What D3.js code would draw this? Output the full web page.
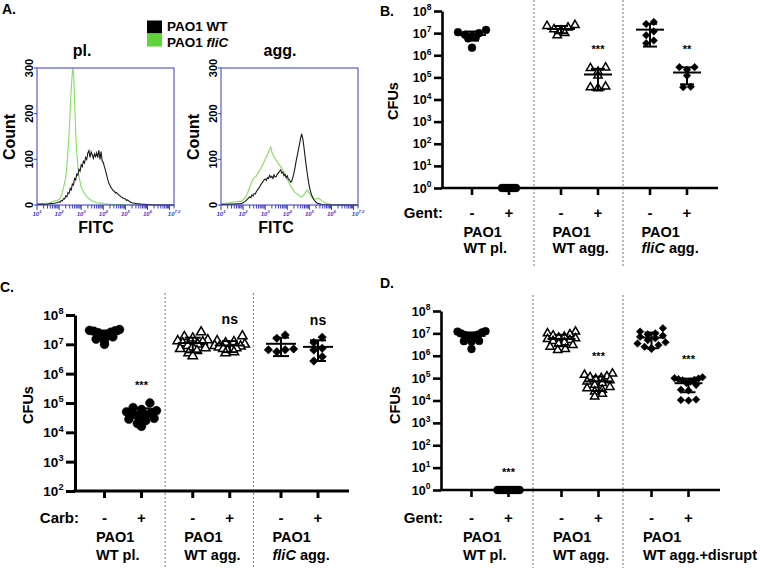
<!DOCTYPE html>
<html>
<head>
<meta charset="utf-8">
<script src="https://cdn.jsdelivr.net/npm/d3@7"></script>
<style>
body { margin: 0; background: #fff; }
text { font-family: "Liberation Sans", Arial, Helvetica, sans-serif; font-weight: bold; }
</style>
</head>
<body>
<svg id="fig" width="760" height="568"></svg>
<script>
// ---- panel A: flow histograms, [log10 FITC, count]
var plWT = [[1.0,1],[1.2,2],[1.4,1],[1.6,3],[1.8,4],[1.9,5],[2.0,7],[2.05,6],[2.1,10],[2.15,9],[2.2,14],[2.25,13],[2.3,20],[2.35,18],[2.4,27],[2.45,25],[2.5,36],[2.55,33],[2.6,46],[2.65,44],[2.7,58],[2.75,55],[2.8,68],[2.85,65],[2.9,78],[2.95,74],[3.0,88],[3.05,84],[3.1,96],[3.15,92],[3.2,104],[3.25,100],[3.3,114],[3.35,119],[3.4,104],[3.45,116],[3.5,110],[3.55,102],[3.6,112],[3.65,106],[3.7,114],[3.75,104],[3.8,120],[3.85,100],[3.9,117],[3.95,96],[4.0,93],[4.05,84],[4.1,76],[4.15,66],[4.2,56],[4.25,48],[4.3,43],[4.35,38],[4.4,35],[4.45,31],[4.5,30],[4.55,26],[4.6,27],[4.7,22],[4.8,18],[4.9,15],[5.0,13],[5.05,10],[5.1,11],[5.2,7],[5.3,5],[5.4,4],[5.5,3],[5.7,2],[6.0,1],[6.3,0],[7.2,0]];
var plFli = [[1.0,2],[1.1,3],[1.2,2],[1.3,3],[1.4,4],[1.5,3],[1.6,5],[1.7,7],[1.8,9],[1.9,10],[2.0,12],[2.1,20],[2.2,38],[2.3,60],[2.35,85],[2.4,118],[2.45,155],[2.5,205],[2.55,255],[2.6,290],[2.63,300],[2.66,285],[2.7,230],[2.75,160],[2.8,115],[2.85,85],[2.9,62],[3.0,40],[3.1,29],[3.2,21],[3.3,16],[3.4,12],[3.5,9],[3.6,7],[3.7,5],[3.8,4],[3.9,4],[4.0,3],[4.2,2],[4.5,1],[4.8,1],[5.2,0],[7.2,0]];
var aggWT = [[1.0,1],[1.5,2],[1.9,3],[2.0,5],[2.1,8],[2.2,13],[2.3,18],[2.35,16],[2.4,22],[2.45,20],[2.5,25],[2.55,24],[2.6,29],[2.65,33],[2.7,36],[2.75,40],[2.8,44],[2.85,48],[2.9,51],[2.95,55],[3.0,57],[3.05,54],[3.1,60],[3.15,58],[3.2,65],[3.25,60],[3.3,63],[3.35,58],[3.4,66],[3.45,61],[3.5,62],[3.55,68],[3.6,70],[3.65,74],[3.7,77],[3.75,70],[3.8,72],[3.85,64],[3.9,67],[3.95,60],[4.0,64],[4.05,56],[4.1,55],[4.15,50],[4.2,52],[4.25,60],[4.3,70],[4.35,82],[4.4,96],[4.45,108],[4.5,120],[4.55,132],[4.6,146],[4.65,156],[4.7,146],[4.75,128],[4.8,108],[4.85,88],[4.9,70],[4.95,54],[5.0,40],[5.05,30],[5.1,22],[5.2,12],[5.3,6],[5.4,3],[5.6,1],[6.0,0],[7.2,0]];
var aggFli = [[1.0,2],[1.2,4],[1.4,5],[1.6,7],[1.8,8],[1.9,8],[2.0,11],[2.1,16],[2.2,26],[2.3,40],[2.4,52],[2.5,60],[2.6,64],[2.7,72],[2.8,80],[2.9,90],[3.0,100],[3.05,106],[3.1,110],[3.15,116],[3.2,122],[3.25,127],[3.3,116],[3.35,110],[3.4,106],[3.5,98],[3.6,90],[3.7,84],[3.8,76],[3.9,66],[4.0,56],[4.1,47],[4.2,38],[4.3,30],[4.4,26],[4.5,22],[4.6,18],[4.7,19],[4.8,26],[4.9,33],[5.0,26],[5.1,16],[5.2,12],[5.3,13],[5.4,15],[5.5,12],[5.6,8],[5.7,5],[5.8,3],[6.0,1],[6.3,0],[7.2,0]];
var histYTicks = [0, 100, 200, 300];
var histXLabels = [[1,"1"],[2,"2"],[3,"3"],[4,"4"],[5,"5"],[6,"6"],[7.2,"7.2"]];

// ---- panel B: CFUs after gentamicin
var bPlMinus = [1.1e7, 8.5e6, 6.5e6, 5.8e6, 7.5e6, 1.0e7, 1.4e7, 2.2e6];
var bPlPlus = [1, 1, 1, 1, 1, 1, 1, 1];
var bAggMinus = [2.1e7, 1.8e7, 1.5e7, 1.3e7, 1.0e7, 8e6, 2.3e7];
var bAggPlus = [2.6e5, 1.2e5, 1.8e5, 2.8e5, 3.2e4, 3.5e4, 3.8e4];
var bFliMinus = [3.2e7, 2.6e7, 8e6, 1.2e7, 3.5e6, 4.6e6];
var bFliPlus = [2.9e5, 2.2e5, 2.9e5, 1.2e5, 3.6e4, 3.8e4];
var sigB = ["", "", "", "***", "", "**"];

// ---- panel C: CFUs after carbenicillin
var cPlMinus = [3.0e7, 2.8e7, 3.2e7, 2.6e7, 2.5e7, 2.2e7, 2.0e7, 1.8e7, 1.5e7, 1.3e7, 1.0e7, 2.9e7];
var cPlPlus = [1.0e5, 7e4, 6e4, 5.5e4, 5e4, 4.5e4, 4e4, 3.8e4, 3.5e4, 3e4, 2.8e4, 2.5e4, 2e4, 1.6e4, 4.8e4];
var cAggMinus = [2.6e7, 1.6e7, 1.4e7, 1.3e7, 1.2e7, 1.1e7, 1.0e7, 9e6, 8e6, 7.5e6, 7e6, 6e6, 5e6, 4e6, 1.8e7];
var cAggPlus = [1.9e7, 1.2e7, 1.1e7, 1.0e7, 9e6, 8.5e6, 8e6, 7.5e6, 7e6, 6.5e6, 6e6, 5.5e6, 5e6, 1.3e7];
var cFliMinus = [2.1e7, 1.6e7, 6.5e6, 5.6e6, 6.5e6, 7e6];
var cFliPlus = [1.75e7, 1.15e7, 6.4e6, 7.3e6, 2.7e6, 3.8e6];
var sigC = ["", "***", "", "ns", "", "ns"];

// ---- panel D: CFUs after gentamicin, disrupted aggregates
var dPlMinus = [1.2e7, 1.25e7, 1.1e7, 1.0e7, 9e6, 8.5e6, 8e6, 7.5e6, 7e6, 4.5e6, 4.3e6, 4.6e6, 2e6];
var dPlPlus = [1, 1, 1, 1, 1, 1, 1, 1, 1, 1, 1, 1];
var dAggMinus = [1.2e7, 1.0e7, 9e6, 8e6, 7e6, 6.5e6, 6e6, 5.5e6, 5e6, 4.5e6, 4e6, 3.5e6, 3e6, 2.5e6, 2e6, 1.8e6];
var dAggPlus = [1.6e5, 1.4e5, 1.2e5, 1.1e5, 1e5, 9e4, 8e4, 7e4, 6e4, 5e4, 4e4, 3.5e4, 3e4, 2.5e4, 2e4, 1.5e4];
var dFliMinus = [1.7e7, 1.2e7, 1.0e7, 9e6, 8e6, 7e6, 6e6, 5e6, 4e6, 3.5e6, 3e6, 2.5e6, 2e6, 2.2e6];
var dFliPlus = [1.1e5, 1.0e5, 9.5e4, 9e4, 8.5e4, 8e4, 7e4, 6e4, 5e4, 3e4, 1.1e4, 1.0e4, 1.05e4, 2.8e4];
var sigD = ["", "***", "", "***", "", "***"];

var treatments = ["-", "+"];
var shapes = ["circle", "triangle", "diamond"];
var namesBC = [["PAO1", "WT pl."], ["PAO1", "WT agg."], ["PAO1", "fliC agg."]];
var namesD = [["PAO1", "WT pl."], ["PAO1", "WT agg."], ["PAO1", "WT agg.+disrupt"]];

var svg = d3.select("#fig");

function supText(g, x, y, base, exp, size, anchor) {
    var t = g.append("text")
        .attr("x", x).attr("y", y)
        .attr("text-anchor", anchor)
        .attr("font-size", size);
    t.append("tspan").text(base);
    t.append("tspan").attr("dy", -size * 0.42).attr("font-size", size * 0.68).text(exp);
    return t;
}

// name with italic fliC
function groupName(t, s) {
    if (s.indexOf("fliC") === 0) {
        t.append("tspan").attr("font-style", "italic").text("fliC");
        t.append("tspan").text(s.slice(4));
    } else {
        t.append("tspan").text(s);
    }
}

function drawHist(x0, title, titleX, fitcX, wt, fli) {
    var g = svg.append("g");
    var x = d3.scaleLinear().domain([1, 7.2]).range([x0, x0 + 137]);
    var y = d3.scaleLinear().domain([0, 300]).range([205, 68]);
    var line = d3.line().x(function(d) { return x(d[0]); }).y(function(d) { return y(d[1]); });
    var blue = "#3b3bc4";

    g.append("path").datum(fli).attr("d", line)
        .attr("fill", "none").attr("stroke", "#84df5e").attr("stroke-width", 1.1);
    g.append("path").datum(wt).attr("d", line)
        .attr("fill", "none").attr("stroke", "#1a1a1a").attr("stroke-width", 1.1);
    g.append("rect")
        .attr("x", x0).attr("y", 68).attr("width", 137).attr("height", 137)
        .attr("fill", "none").attr("stroke", blue).attr("stroke-width", 1);

    // log minor ticks along the bottom
    var minor = [];
    for (var d = 1; d <= 7; d++) {
        for (var k = 1; k < 10; k++) {
            var v = d + Math.log10(k);
            if (v <= 7.2) minor.push(v);
        }
    }
    minor.push(7.2);
    g.selectAll(".mt").data(minor).enter().append("line")
        .attr("x1", function(v) { return x(v); }).attr("x2", function(v) { return x(v); })
        .attr("y1", 205).attr("y2", function(v) { return Number.isInteger(v) ? 210 : 208.5; })
        .attr("stroke", blue).attr("stroke-width", 1);
    histXLabels.forEach(function(l) {
        supText(g, x(l[0]), 215.5, "10", l[1], 6, "middle").attr("fill", blue).attr("font-weight", "normal").attr("font-style", "italic");
    });

    // y ticks
    g.selectAll(".yt").data(histYTicks).enter().append("line")
        .attr("x1", x0 - 3).attr("x2", x0)
        .attr("y1", function(v) { return y(v); }).attr("y2", function(v) { return y(v); })
        .attr("stroke", blue);
    g.selectAll(".yl").data(histYTicks).enter().append("text")
        .attr("transform", function(v) { return "translate(" + (x0 - 4) + "," + y(v) + ") rotate(-90)"; })
        .attr("text-anchor", "middle").attr("font-size", 11)
        .text(function(v) { return v; });

    g.append("text")
        .attr("transform", "translate(" + (x0 - 22) + ",137) rotate(-90)")
        .attr("text-anchor", "middle").attr("font-size", 16).text("Count");
    g.append("text").attr("x", fitcX).attr("y", 233).attr("text-anchor", "middle")
        .attr("font-size", 16).text("FITC");
    g.append("text").attr("x", titleX).attr("y", 56).attr("text-anchor", "middle")
        .attr("font-size", 16).text(title);
}

function symbolPath(shape, size) {
    if (shape === "circle") return d3.symbol(d3.symbolCircle, size * 1.6)();
    if (shape === "triangle") return d3.symbol(d3.symbolTriangle, size)();
    return d3.symbol(d3.symbolSquare, size * 0.95)();
}

// spread points of one column in rows, lowest values nearest the middle
function swarm(vals, y, r, maxW) {
    var pts = vals.map(function(v) { return {v: v, py: y(v), dx: 0}; })
        .sort(function(a, b) { return a.py - b.py; });
    var rows = [], cur = null;
    pts.forEach(function(p) {
        if (!cur || p.py - cur[0].py > r * 1.7) { cur = [p]; rows.push(cur); }
        else cur.push(p);
    });
    rows.forEach(function(row) {
        var n = row.length;
        var same = row.every(function(p) { return p.v === row[0].v; });
        var step = (same && n > 3) ? 2 : Math.min(2 * r, n > 1 ? maxW / (n - 1) : 0);
        var slots = d3.range(n).map(function(j) { return (j - (n - 1) / 2) * step; })
            .sort(function(a, b) { return Math.abs(a) - Math.abs(b) || a - b; });
        row.sort(function(a, b) { return a.v - b.v; });
        row.forEach(function(p, i) { p.dx = slots[i]; });
    });
    return pts;
}

function cfuPanel(p) {
    var g = svg.append("g");
    var y = d3.scaleLog().domain([p.lo, 1e8]).range([p.yBot, p.yTop]);
    var xg = d3.scalePoint().domain([0, 1, 2]).range(p.c);
    var xs = d3.scalePoint().domain(treatments).range([-p.half, p.half]);
    var powers = d3.range(Math.round(Math.log10(p.lo)), 9).map(function(e) { return Math.pow(10, e); });

    // dashed dividers between strains
    g.selectAll(".div").data([0.5, 1.5]).enter().append("line")
        .attr("x1", function(d) { return (xg(d - 0.5) + xg(d + 0.5)) / 2 + p.divShift; })
        .attr("x2", function(d) { return (xg(d - 0.5) + xg(d + 0.5)) / 2 + p.divShift; })
        .attr("y1", p.dash[0]).attr("y2", p.dash[1])
        .attr("stroke", "#666").attr("stroke-width", 0.9).attr("stroke-dasharray", "2,2");

    // y axis
    var yAxis = d3.axisLeft(y).tickValues(powers).tickSize(p.tick).tickSizeOuter(0).tickFormat("");
    var ya = g.append("g").attr("transform", "translate(" + p.x0 + ",0)").call(yAxis);
    ya.selectAll("path, line").attr("stroke", "#000").attr("stroke-width", p.axisW);
    powers.forEach(function(v) {
        supText(g, p.x0 - p.tick - 2.5, y(v) + p.tickFont * 0.36, "10", Math.round(Math.log10(v)), p.tickFont, "end");
    });
    g.append("text")
        .attr("transform", "translate(" + p.cfu[0] + "," + p.cfu[1] + ") rotate(-90)")
        .attr("text-anchor", "middle").attr("font-size", 14.5).text("CFUs");

    // x axis
    g.append("line").attr("x1", p.x0 - p.axisW / 2).attr("x2", p.x1)
        .attr("y1", p.yBot).attr("y2", p.yBot)
        .attr("stroke", "#000").attr("stroke-width", p.axisW);
    var conds = [];
    p.sets.forEach(function(pair, gi) {
        pair.forEach(function(vals, ti) {
            conds.push({g: gi, t: treatments[ti], x: xg(gi) + xs(treatments[ti]), vals: vals, sig: p.sig[gi * 2 + ti]});
        });
    });
    g.selectAll(".xt").data(conds).enter().append("line")
        .attr("x1", function(d) { return d.x; }).attr("x2", function(d) { return d.x; })
        .attr("y1", p.yBot).attr("y2", p.yBot + 7)
        .attr("stroke", "#000").attr("stroke-width", p.axisW);

    // points, then mean +/- SD on top
    conds.forEach(function(c) {
        var shape = shapes[c.g];
        var pts = swarm(c.vals, y, p.r, p.swarmW);
        g.selectAll(null).data(pts).enter().append("path")
            .attr("d", symbolPath(shape, p.size))
            .attr("transform", function(d) {
                return "translate(" + (c.x + d.dx) + "," + d.py + ")" + (shape === "diamond" ? " rotate(45)" : "");
            })
            .attr("fill", shape === "triangle" ? "#fff" : "#000")
            .attr("stroke", "#000").attr("stroke-width", shape === "triangle" ? 1.5 : 0.5);

        var m = d3.mean(c.vals), sd = d3.deviation(c.vals) || 0;
        var hi = m + sd, lo = Math.max(m - sd, p.lo);
        var eb = g.append("g").attr("stroke", "#000").attr("stroke-width", 2);
        eb.append("line").attr("x1", c.x).attr("x2", c.x).attr("y1", y(lo)).attr("y2", y(hi));
        eb.append("line").attr("x1", c.x - p.cap).attr("x2", c.x + p.cap).attr("y1", y(hi)).attr("y2", y(hi));
        eb.append("line").attr("x1", c.x - p.cap).attr("x2", c.x + p.cap).attr("y1", y(lo)).attr("y2", y(lo));
        eb.append("line").attr("x1", c.x - p.mean).attr("x2", c.x + p.mean).attr("y1", y(m)).attr("y2", y(m));

        if (c.sig) {
            var top = Math.min(y(d3.max(c.vals)), y(hi));
            var isNs = c.sig === "ns";
            g.append("text").attr("x", c.x).attr("y", top - (isNs ? 12 : 14))
                .attr("text-anchor", "middle")
                .attr("font-size", isNs ? 14 : 11)
                .attr("font-weight", isNs ? "bold" : "normal")
                .text(c.sig);
        }
    });

    // treatment row and strain names
    g.append("text").attr("x", p.treatX).attr("y", p.rowY[0]).attr("text-anchor", "end")
        .attr("font-size", 15).text(p.treat);
    g.selectAll(".tl").data(conds).enter().append("text")
        .attr("x", function(d) { return d.x; }).attr("y", p.rowY[0])
        .attr("text-anchor", "middle").attr("font-size", 15)
        .text(function(d) { return d.t; });
    p.names.forEach(function(nm, gi) {
        g.append("text").attr("x", xg(gi) - 27).attr("y", p.rowY[1]).attr("font-size", 14.5).text(nm[0]);
        groupName(g.append("text").attr("x", xg(gi) - 27).attr("y", p.rowY[2]).attr("font-size", 14.5), nm[1]);
    });
}

// ---- panel A
svg.append("text").attr("x", 2).attr("y", 14).attr("font-size", 14).text("A.");
svg.append("rect").attr("x", 147).attr("y", 20.5).attr("width", 15).attr("height", 13).attr("fill", "#000");
svg.append("rect").attr("x", 147).attr("y", 33.5).attr("width", 15).attr("height", 13).attr("fill", "#5fd43a");
svg.append("text").attr("x", 167).attr("y", 31).attr("font-size", 13.5).text("PAO1 WT");
var lg = svg.append("text").attr("x", 167).attr("y", 46.5).attr("font-size", 13.5);
lg.append("tspan").text("PAO1 ");
lg.append("tspan").attr("font-style", "italic").text("fliC");

drawHist(37, "pl.", 82, 96, plWT, plFli);
drawHist(221, "agg.", 280, 276, aggWT, aggFli);

// ---- panel B
svg.append("text").attr("x", 380).attr("y", 16).attr("font-size", 14).text("B.");
cfuPanel({
    x0: 442, x1: 718, yTop: 11, yBot: 188, lo: 1,
    c: [490.5, 668.5], half: 18.5, divShift: -1, dash: [0, 267],
    tick: 8, axisW: 2.6, tickFont: 12.5, cfu: [398, 101],
    treat: "Gent:", treatX: 443, rowY: [218, 237, 253],
    names: namesBC, sig: sigB,
    sets: [[bPlMinus, bPlPlus], [bAggMinus, bAggPlus], [bFliMinus, bFliPlus]],
    r: 3.8, size: 30, swarmW: 28, mean: 14, cap: 7
});

// ---- panel C
svg.append("text").attr("x", 0).attr("y", 292).attr("font-size", 14).text("C.");
cfuPanel({
    x0: 75, x1: 349, yTop: 315, yBot: 491, lo: 100,
    c: [123, 299.5], half: 18.5, divShift: -2, dash: [293, 568],
    tick: 9, axisW: 3, tickFont: 13.5, cfu: [33, 405],
    treat: "Carb:", treatX: 79, rowY: [523, 542, 560],
    names: namesBC, sig: sigC,
    sets: [[cPlMinus, cPlPlus], [cAggMinus, cAggPlus], [cFliMinus, cFliPlus]],
    r: 4.2, size: 38, swarmW: 30, mean: 15, cap: 8
});

// ---- panel D
svg.append("text").attr("x", 380).attr("y", 288).attr("font-size", 14).text("D.");
cfuPanel({
    x0: 441, x1: 720, yTop: 311, yBot: 490, lo: 1,
    c: [490, 670], half: 18.5, divShift: -2, dash: [295, 568],
    tick: 8, axisW: 2.6, tickFont: 12.5, cfu: [400, 405],
    treat: "Gent:", treatX: 443, rowY: [523, 542, 560],
    names: namesD, sig: sigD,
    sets: [[dPlMinus, dPlPlus], [dAggMinus, dAggPlus], [dFliMinus, dFliPlus]],
    r: 3.8, size: 30, swarmW: 28, mean: 14, cap: 7
});
</script>
</body>
</html>
